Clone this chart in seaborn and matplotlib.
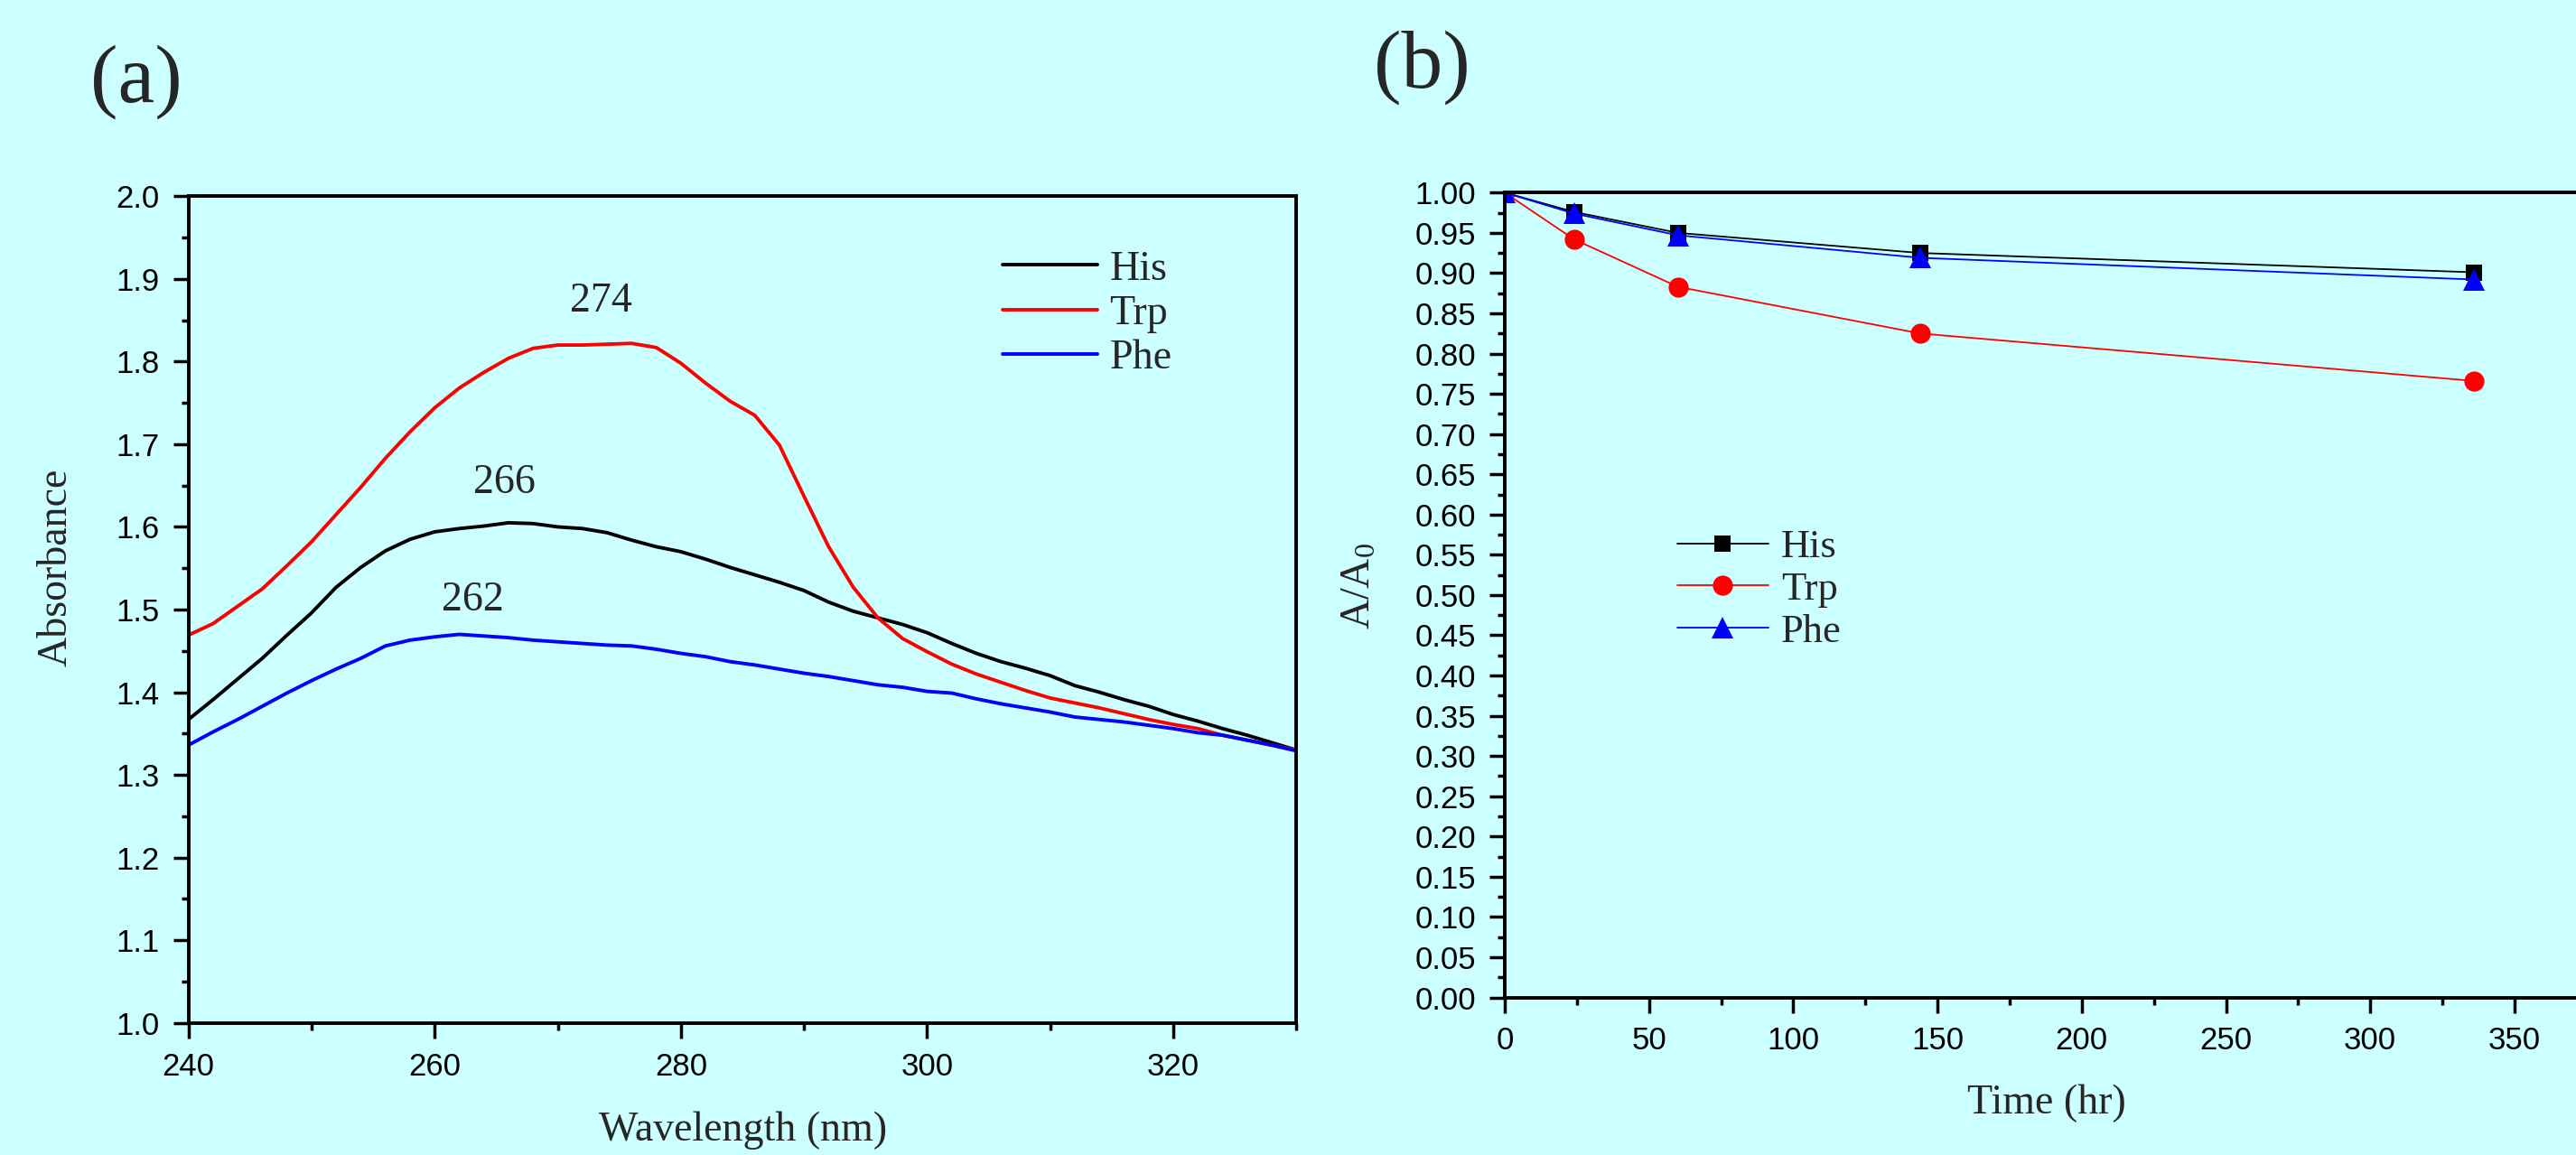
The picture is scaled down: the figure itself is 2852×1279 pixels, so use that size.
import matplotlib
matplotlib.use("Agg")
import matplotlib.pyplot as plt
import pandas as pd
import seaborn as sns
from matplotlib.ticker import FormatStrFormatter, MultipleLocator

# (a) UV absorbance spectra
wavelength = list(range(240, 331, 2))
his_abs = [1.367, 1.391, 1.416, 1.441, 1.469, 1.496, 1.527, 1.551, 1.571, 1.585,
           1.594, 1.598, 1.601, 1.605, 1.604, 1.600, 1.598, 1.593, 1.584, 1.576,
           1.570, 1.561, 1.551, 1.542, 1.533, 1.523, 1.509, 1.498, 1.490, 1.482,
           1.472, 1.459, 1.447, 1.437, 1.429, 1.420, 1.408, 1.400, 1.391, 1.383,
           1.373, 1.365, 1.356, 1.348, 1.339, 1.330]
trp_abs = [1.469, 1.483, 1.504, 1.525, 1.553, 1.582, 1.615, 1.648, 1.683, 1.715,
           1.744, 1.768, 1.787, 1.804, 1.816, 1.820, 1.820, 1.821, 1.822, 1.817,
           1.798, 1.774, 1.752, 1.735, 1.699, 1.637, 1.576, 1.527, 1.490, 1.465,
           1.449, 1.434, 1.422, 1.412, 1.402, 1.393, 1.387, 1.381, 1.374, 1.367,
           1.361, 1.356, 1.348, 1.342, 1.336, 1.330]
phe_abs = [1.336, 1.352, 1.367, 1.383, 1.399, 1.414, 1.428, 1.441, 1.456, 1.463,
           1.467, 1.470, 1.468, 1.466, 1.463, 1.461, 1.459, 1.457, 1.456, 1.452,
           1.447, 1.443, 1.437, 1.433, 1.428, 1.423, 1.419, 1.414, 1.409, 1.406,
           1.401, 1.399, 1.392, 1.386, 1.381, 1.376, 1.370, 1.367, 1.364, 1.360,
           1.356, 1.351, 1.348, 1.342, 1.336, 1.329]
peak_labels = ["274", "266", "262"]

# (b) relative absorbance over time
time_hr = [0, 24, 60, 144, 336]
his_ratio = [1.000, 0.976, 0.950, 0.925, 0.901]
trp_ratio = [1.000, 0.942, 0.883, 0.825, 0.766]
phe_ratio = [1.000, 0.974, 0.947, 0.919, 0.892]

names = ["His", "Trp", "Phe"]
colors = {"His": "black", "Trp": "red", "Phe": "blue"}
markers = {"His": "s", "Trp": "o", "Phe": "^"}

bg = "#ccffff"
W, H = 2852, 1279

sns.set_style("ticks")
plt.rcParams["font.family"] = ["Liberation Serif", "DejaVu Serif"]
plt.rcParams["mathtext.fontset"] = "custom"
plt.rcParams["mathtext.rm"] = "Liberation Serif"
plt.rcParams["mathtext.it"] = "Liberation Serif:italic"

spectra = pd.DataFrame({
    "wavelength": wavelength * 3,
    "absorbance": his_abs + trp_abs + phe_abs,
    "sample": [n for n in names for _ in wavelength],
})
decay = pd.DataFrame({
    "time": time_hr * 3,
    "ratio": his_ratio + trp_ratio + phe_ratio,
    "sample": [n for n in names for _ in time_hr],
})


def fpos(x, y):
    return x / W, 1 - y / H


fig = plt.figure(figsize=(W / 100, H / 100), dpi=100)
fig.patch.set_facecolor(bg)
ax_a = fig.add_axes([208.6 / W, 1 - 1132.7 / H, 1226.8 / W, 915.4 / H])
ax_b = fig.add_axes([1666 / W, 1 - 1104.5 / H, 375 * 3.194 / W, 891.2 / H])

# panel (a)
sns.lineplot(data=spectra, x="wavelength", y="absorbance", hue="sample",
             hue_order=names, palette=colors, estimator=None, linewidth=2.8,
             legend=False, ax=ax_a)
for line, name in zip(ax_a.lines, names):
    line.set_label(name)
ax_a.set_xlim(240, 330)
ax_a.set_ylim(1.0, 2.0)
ax_a.xaxis.set_major_locator(MultipleLocator(20))
ax_a.xaxis.set_minor_locator(MultipleLocator(10))
ax_a.yaxis.set_major_locator(MultipleLocator(0.1))
ax_a.yaxis.set_minor_locator(MultipleLocator(0.05))
ax_a.yaxis.set_major_formatter(FormatStrFormatter("%.1f"))
for (txt, x, y) in zip(peak_labels, [273.5, 265.7, 263.1], [1.861, 1.6405, 1.499]):
    ax_a.text(x, y, txt, ha="center", va="baseline", fontsize=33)
ax_a.legend(loc="upper left", bbox_to_anchor=fpos(1110, 277), bbox_transform=fig.transFigure,
            frameon=False, fontsize=33, handlelength=2.3, handletextpad=0.28,
            labelspacing=0.15, borderpad=0, borderaxespad=0)

# panel (b)
sns.lineplot(data=decay, x="time", y="ratio", hue="sample", style="sample",
             hue_order=names, style_order=names, palette=colors, markers=markers,
             dashes=False, estimator=None, linewidth=1.3, markersize=16,
             markeredgewidth=0, legend=False, ax=ax_b)
for line, name in zip(ax_b.lines, names):
    line.set_label(name)
    if name == "His":
        line.set_markersize(13)
    if name == "Phe":
        line.set_markersize(17)
ax_b.set_xlim(0, 375)
ax_b.set_ylim(0.0, 1.0)
ax_b.xaxis.set_major_locator(MultipleLocator(50))
ax_b.xaxis.set_minor_locator(MultipleLocator(25))
ax_b.yaxis.set_major_locator(MultipleLocator(0.05))
ax_b.yaxis.set_minor_locator(MultipleLocator(0.025))
ax_b.yaxis.set_major_formatter(FormatStrFormatter("%.2f"))
ax_b.legend(loc="upper left", bbox_to_anchor=fpos(1857, 586), bbox_transform=fig.transFigure,
            frameon=False, fontsize=32, handlelength=2.27, handletextpad=0.32,
            labelspacing=0.15, borderpad=0, borderaxespad=0)

for ax, size in [(ax_a, 25), (ax_b, 25)]:
    ax.set_facecolor(bg)
    ax.set_xlabel("")
    ax.set_ylabel("")
    for sp in ax.spines.values():
        sp.set_visible(True)
        sp.set_linewidth(2.8)
        sp.set_color("black")
    ax.tick_params(which="major", direction="out", length=12, width=2.5,
                   pad=11, labelsize=size, labelfontfamily="Liberation Sans",
                   top=False, right=False, colors="black")
    ax.tick_params(which="minor", direction="out", length=6, width=2.5,
                   top=False, right=False, colors="black")

# axis titles and panel letters
fig.text(*fpos(823, 1263), "Wavelength (nm)", ha="center", va="baseline", fontsize=33)
fig.text(*fpos(73, 628), "Absorbance", ha="center", va="baseline", fontsize=33,
         rotation=90, rotation_mode="anchor")
fig.text(*fpos(2266, 1233), "Time (hr)", ha="center", va="baseline", fontsize=33)
fig.text(*fpos(1517, 649), r"A/A$_\mathrm{0}$", ha="center", va="baseline", fontsize=33,
         rotation=90, rotation_mode="anchor")
fig.text(*fpos(100, 113), "(a)", ha="left", va="baseline", fontsize=66)
fig.text(*fpos(1521, 97), "(b)", ha="left", va="baseline", fontsize=66)

fig.savefig("out.png", dpi=100, facecolor=bg)
plt.close(fig)
